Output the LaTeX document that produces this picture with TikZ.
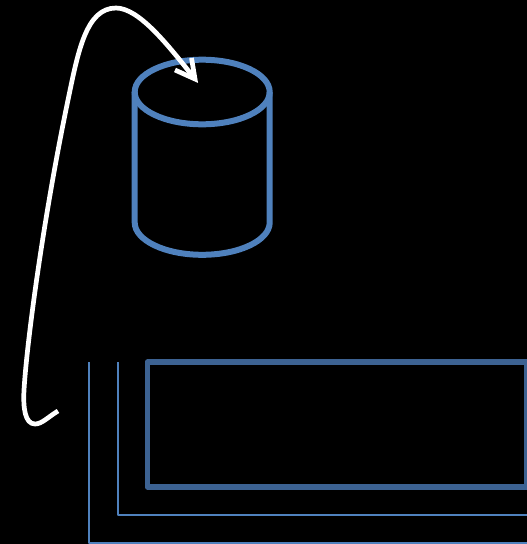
\documentclass[tikz,border=0pt]{standalone}
\tikzset{
  cyl/.style={draw=cylblue,line width=6pt,line join=round},
  boxfront/.style={draw=boxblue,line width=5.5pt,line join=round},
  boxback/.style={draw=cylblue,line width=2pt,line join=round},
  curvearrow/.style={draw=white,line width=4.7pt,line join=round,line cap=butt}
}
\definecolor{cylblue}{RGB}{79,129,189}
\definecolor{boxblue}{RGB}{60,98,146}
\begin{document}
\begin{tikzpicture}[x=1pt,y=-1pt]
\fill[black] (0,0) rectangle (527,544);
\clip (0,0) rectangle (527,544);
\useasboundingbox (0,0) rectangle (527,544);
% cylinder
\draw[cyl] (202.2,92) ellipse [x radius=67.5,y radius=32.3];
\draw[cyl] (134.7,92) -- (134.7,222.5) arc [start angle=180,end angle=0,x radius=67.5,y radius=32.3] -- (269.7,92);
% stacked boxes
\draw[boxback] (89,362) -- (89,543) -- (527,543);
\draw[boxback] (118,362) -- (118,515) -- (527,515);
\draw[boxfront] (147.5,362) rectangle (526.5,487);
% curved arrow
\draw[curvearrow] (58,411) .. controls (48,417) and (42,424) .. (35,424)
  .. controls (25,424) and (23,408) .. (24,390)
  .. controls (27,340) and (44,215) .. (68,100)
  .. controls (78,52) and (86,8) .. (116,8)
  .. controls (139,8) and (168,45) .. (195,79);
\draw[curvearrow,line join=miter] (175,70) -- (195,79) -- (191.5,58);
\end{tikzpicture}
\end{document}
